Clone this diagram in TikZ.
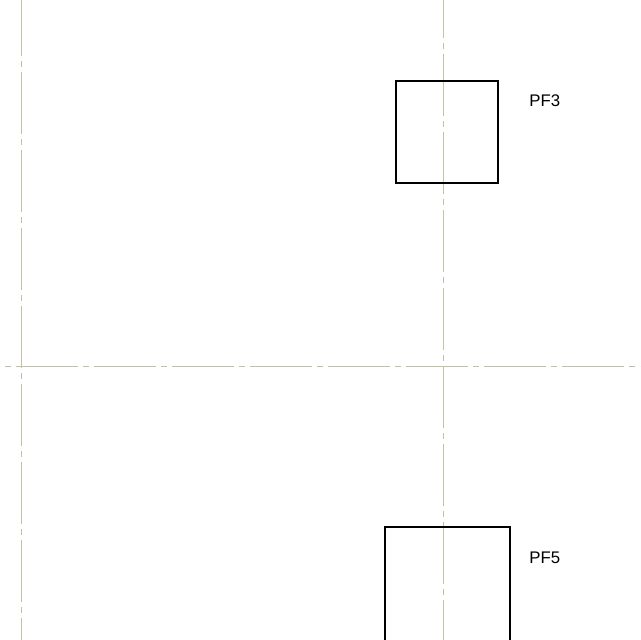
\documentclass[tikz,border=0pt]{standalone}
\usepackage{fontspec}
\setmainfont{Liberation Sans}
\usepackage{xcolor}
\definecolor{gridline}{HTML}{C4C0A6}
\begin{document}
\begin{tikzpicture}[
    x=0.5pt, y=-0.5pt,
    axis/.style={draw=gridline, line width=0.5pt, dash pattern=on 31pt off 2.5pt on 3pt off 2.5pt},
    column/.style={draw, line width=1pt, inner sep=0pt},
    tag/.style={anchor=west, inner sep=0pt, font=\fontsize{8.4pt}{10pt}\selectfont}
]
\useasboundingbox (0,0) rectangle (640,640);
\clip (0,0) rectangle (640,640);
% grid axes
\coordinate (ha) at (0,366);
\coordinate (hb) at (640,366);
\coordinate (va) at (21,0);
\coordinate (vb) at (21,640);
\coordinate (wa) at (443,0);
\coordinate (wb) at (443,640);
\draw[axis, dash phase=-47pt] (hb) -- (ha);
\draw[axis, dash phase=3pt] (va) -- (vb);
\draw[axis, dash phase=12pt] (wa) -- (wb);
% columns
\node[column, minimum width=51pt, minimum height=51pt] (pf3) at (447,132) {};
\node[column, minimum width=62.5pt, minimum height=70pt] (pf5) at (447.5,597) {};
\node[tag] (pf3label) at (529,101) {PF3};
\node[tag] (pf5label) at (529,558) {PF5};
\end{tikzpicture}
\end{document}
